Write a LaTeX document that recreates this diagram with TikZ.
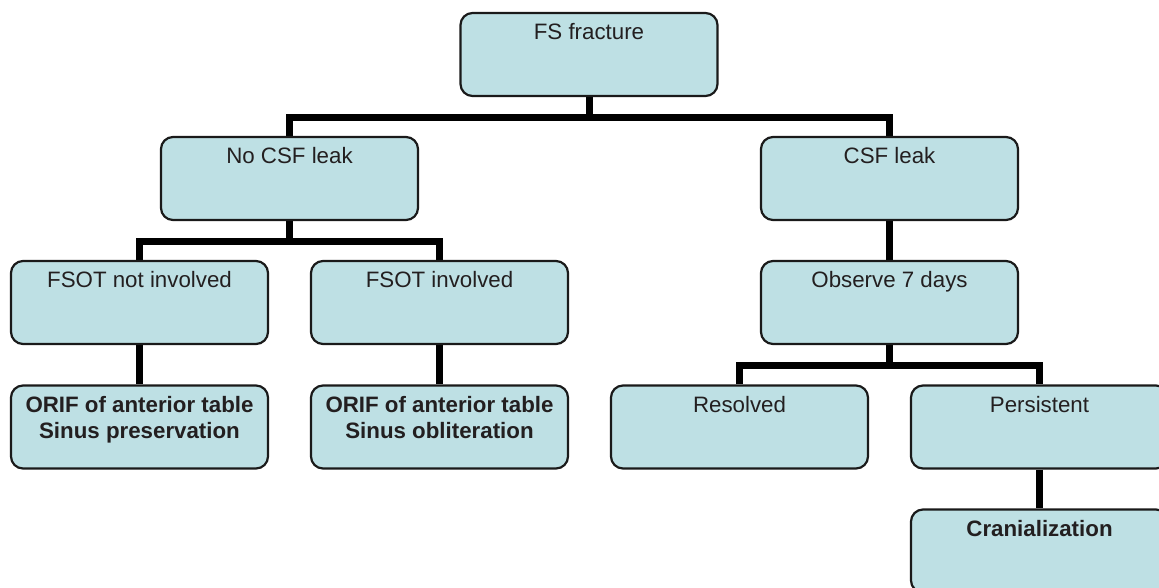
\documentclass[tikz,border=0pt]{standalone}
\usepackage{fontspec}
\setmainfont{Liberation Sans}
\usetikzlibrary{backgrounds}
\definecolor{boxfill}{RGB}{190,224,228}
\definecolor{boxline}{RGB}{26,26,26}
\definecolor{txt}{RGB}{35,31,32}
\newcommand{\boxtext}[1]{\parbox[c][83pt][t]{257pt}{\centering\fontsize{22.3}{26}\selectfont\rule{0pt}{26.5pt}#1\par}}
\tikzset{
  fbox/.style={draw=boxline, fill=boxfill, line width=2.2pt, rounded corners=12pt,
    inner sep=0pt, minimum width=257pt, minimum height=83pt, text=txt},
  conn/.style={draw=black, line width=7pt}
}
\begin{document}
\begin{tikzpicture}[x=1pt,y=-1pt]
\useasboundingbox (0,0) rectangle (1159,587);
\node[fbox] (fs) at (589,54.5) {\boxtext{FS fracture}};
\node[fbox] (nocsf) at (289.5,178.5) {\boxtext{No CSF leak}};
\node[fbox] (csf) at (889.5,178.5) {\boxtext{CSF leak}};
\node[fbox] (notinv) at (139.5,302.5) {\boxtext{FSOT not involved}};
\node[fbox] (inv) at (439.5,302.5) {\boxtext{FSOT involved}};
\node[fbox] (obs) at (889.5,302.5) {\boxtext{Observe 7 days}};
\node[fbox] (pres) at (139.5,427) {\boxtext{\textbf{ORIF of anterior table}\\\textbf{Sinus preservation}}};
\node[fbox] (obl) at (439.5,427) {\boxtext{\textbf{ORIF of anterior table}\\\textbf{Sinus obliteration}}};
\node[fbox] (res) at (739.5,427) {\boxtext{Resolved}};
\node[fbox] (pers) at (1039.5,427) {\boxtext{Persistent}};
\node[fbox] (cran) at (1039.5,551) {\boxtext{\textbf{Cranialization}}};
\coordinate (j1) at (589,117);
\coordinate (j2) at (289.5,241);
\coordinate (j3) at (889.5,365);
\begin{pgfonlayer}{background}
\draw[conn] (fs.south) -- (j1);
\draw[conn] (nocsf.north) |- (j1) -| (csf.north);
\draw[conn] (nocsf.south) -- (j2);
\draw[conn] (notinv.north) |- (j2) -| (inv.north);
\draw[conn] (notinv.south) -- (pres.north);
\draw[conn] (inv.south) -- (obl.north);
\draw[conn] (csf.south) -- (obs.north);
\draw[conn] (obs.south) -- (j3);
\draw[conn] (res.north) |- (j3) -| (pers.north);
\draw[conn] (pers.south) -- (cran.north);
\end{pgfonlayer}
\end{tikzpicture}
\end{document}
